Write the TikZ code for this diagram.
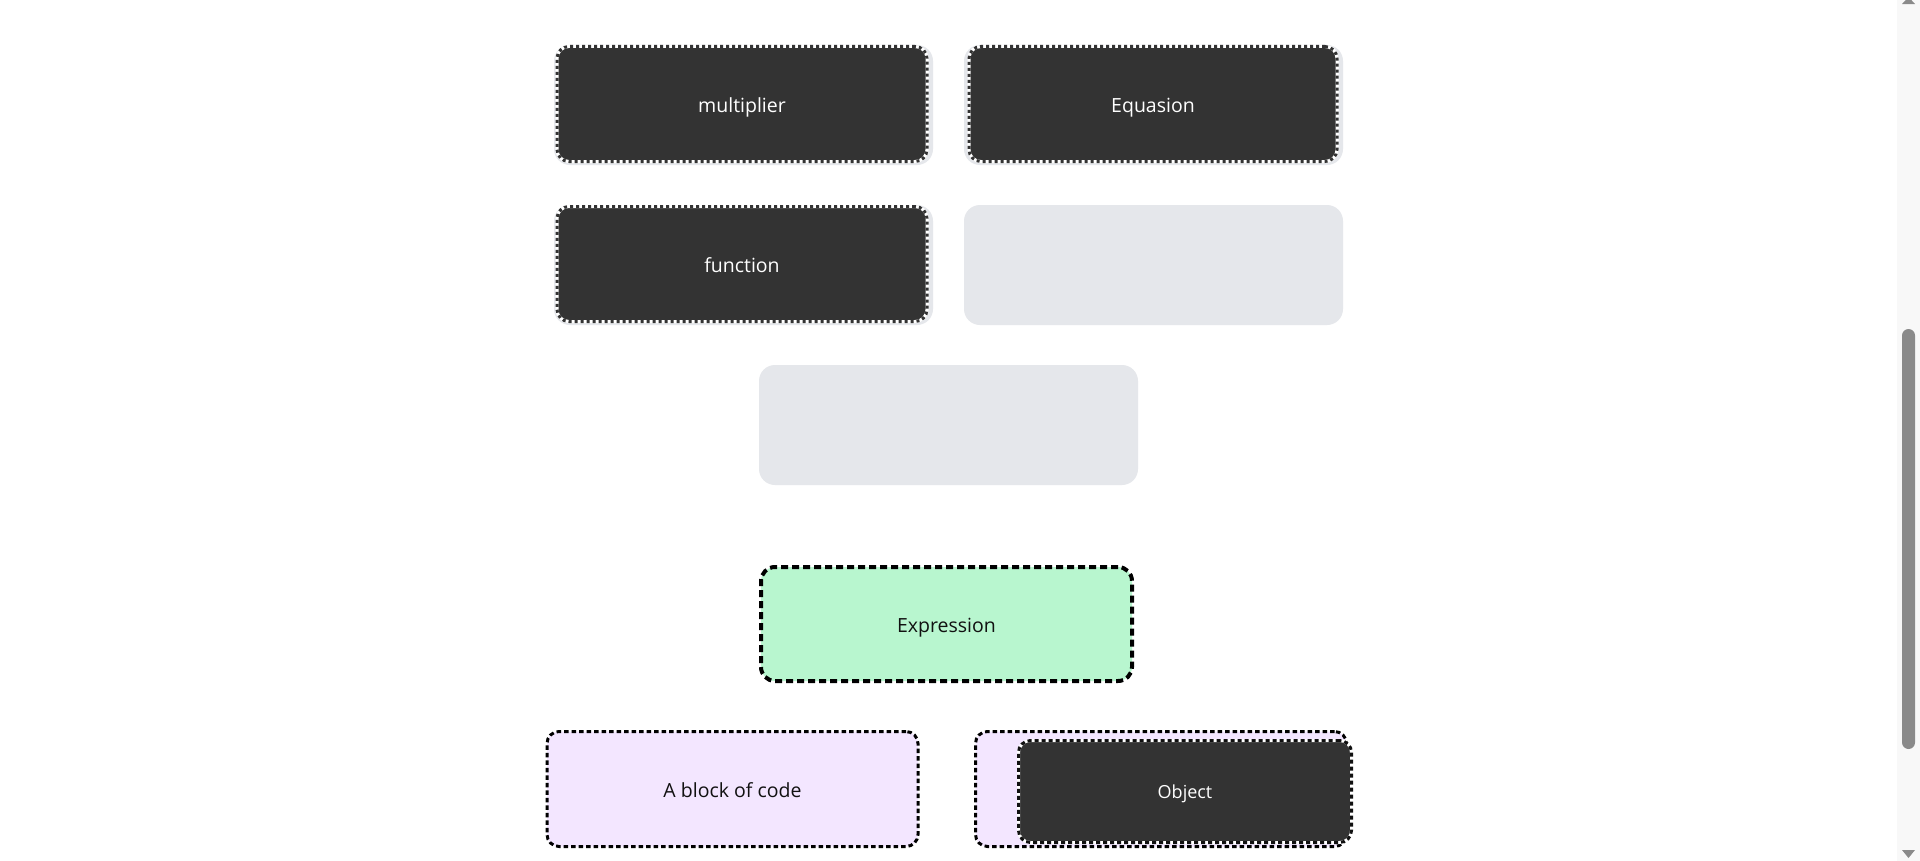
\documentclass[tikz,border=0pt]{standalone}
\usepackage{fontspec}
\setmainfont{Open Sans}
\definecolor{cardDark}{HTML}{333333}
\definecolor{slotGrey}{HTML}{E5E7EB}
\definecolor{exprGreen}{HTML}{B8F6CF}
\definecolor{codePurple}{HTML}{F3E6FF}
\definecolor{trackGrey}{HTML}{F8F8F8}
\definecolor{thumbGrey}{HTML}{8A8A8A}
\definecolor{inkDark}{HTML}{111111}
\tikzset{
  slot/.style={rectangle, rounded corners=16bp, fill=slotGrey, draw=none,
    minimum width=379bp, minimum height=120bp, inner sep=0pt},
  cardtext/.style={font=\fontsize{19.5bp}{23bp}\selectfont, text height=16bp, text depth=0bp},
  darkcard/.style={rectangle, rounded corners=12bp, fill=cardDark, draw=white,
    line width=3bp, minimum width=370bp, minimum height=115bp, inner sep=0pt,
    text=white, cardtext,
    postaction={draw=cardDark, line width=3bp, dash pattern=on 3bp off 3bp}},
  objcard/.style={rectangle, rounded corners=12bp, fill=cardDark, draw=white,
    line width=3bp, minimum width=333bp, minimum height=102bp, inner sep=0pt,
    text=white, font=\fontsize{18bp}{21bp}\selectfont, text height=14bp, text depth=0bp,
    postaction={draw=inkDark, line width=3bp, dash pattern=on 4bp off 3bp}},
  exprbox/.style={rectangle, rounded corners=14bp, fill=exprGreen, draw=black,
    line width=4bp, dash pattern=on 7bp off 4bp, minimum width=371bp,
    minimum height=114bp, inner sep=0pt, text=inkDark, cardtext},
  codebox/.style={rectangle, rounded corners=12bp, fill=codePurple, draw=black,
    line width=3bp, dash pattern=on 4.5bp off 3bp, minimum width=371bp,
    minimum height=115bp, inner sep=0pt, text=inkDark, cardtext}
}
\begin{document}
\begin{tikzpicture}[x=1bp,y=-1bp]
\useasboundingbox[fill=white] (0,0) rectangle (1920,861);
% slots
\node[slot] (slotA) at (743.5,105) {};
\node[slot] (slotB) at (1153.5,105) {};
\node[slot] (slotC) at (743.5,265) {};
\node[slot] (slotD) at (1153.5,265) {};
\node[slot] (slotE) at (948.5,425) {};
% dark cards
\node[darkcard] (mult) at (742,104) {multiplier};
\node[darkcard, minimum width=368bp] (equa) at (1153,104) {Equasion};
\node[darkcard] (func) at (742,264) {function};
% expression
\node[exprbox] (expr) at (946.5,624) {Expression};
% code blocks
\node[codebox] (block) at (732.5,789) {A block of code};
\node[codebox] (objslot) at (1161,789) {};
\node[objcard] (obj) at (1185,791.5) {Object};
% scrollbar
\fill[trackGrey] (1897,0) rectangle (1920,861);
\fill[thumbGrey, rounded corners=6.5bp] (1902,329) rectangle (1915,749);
\coordinate (upL) at (1902,4);
\coordinate (upR) at (1915,4);
\coordinate (upT) at (1908.5,-3);
\fill[thumbGrey] (upL) -- (upR) -- (upT) -- cycle;
\coordinate (dnL) at (1902,850);
\coordinate (dnR) at (1915,850);
\coordinate (dnT) at (1908.5,858);
\fill[thumbGrey] (dnL) -- (dnR) -- (dnT) -- cycle;
\end{tikzpicture}
\end{document}
